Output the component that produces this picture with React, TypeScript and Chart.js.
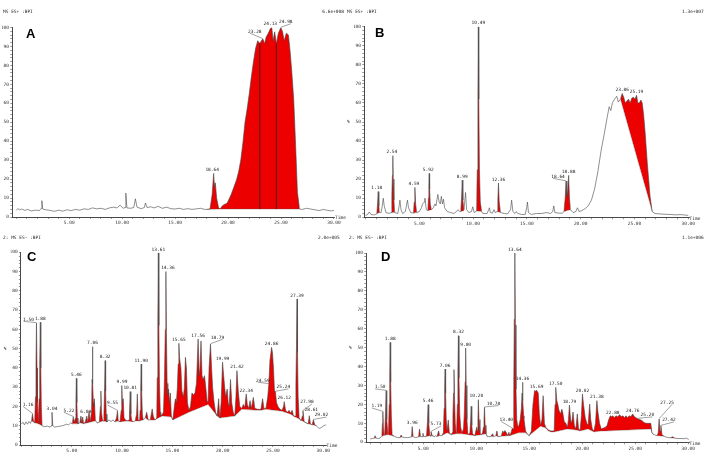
import React, { useEffect, useRef } from "react";
import { Chart, registerables } from "chart.js";
Chart.register(...registerables);

type P = [number, number];

// ---------------- Panel A (MS ES+ :BPI, 6.6e+008) ----------------
const traceA: P[] = [
  [0.0,3.5],[0.15,4.5],[0.3,3.8],[0.5,4.2],[0.8,3.5],[1.1,4.0],[1.4,3.2],[1.8,3.6],[2.2,3.4],[2.35,4.5],[2.42,8.6],[2.5,4.2],
  [2.8,3.8],[3.2,3.5],[3.6,3.0],[4.0,3.6],[4.4,3.1],[4.8,3.8],[5.2,3.4],[5.6,4.0],[6.0,3.6],[6.4,4.3],[6.8,4.0],[7.2,4.8],
  [7.6,4.3],[8.0,4.6],[8.4,4.0],[8.8,4.8],[9.2,5.2],[9.5,4.8],[9.8,6.2],[10.1,4.6],[10.28,5.0],[10.35,12.6],[10.45,4.8],
  [10.8,4.6],[11.1,5.0],[11.25,9.6],[11.4,5.2],[11.8,4.4],[12.1,5.0],[12.2,7.4],[12.35,5.0],[12.7,5.4],[13.0,4.8],[13.4,5.6],
  [13.8,4.6],[14.2,5.2],[14.6,4.4],[15.0,4.2],[15.4,4.6],[15.8,4.0],[16.2,4.4],[16.6,4.0],[17.0,4.3],[17.4,4.6],[17.8,4.0],
  [18.0,4.0],[18.3,4.3],[18.5,12],[18.64,23],[18.72,16],[18.8,18],[18.92,10],[19.1,5],[19.25,4.2],[19.4,5.5],[19.6,6.5],
  [19.9,7.2],[20.1,9.5],[20.3,12],[20.5,15],[20.8,19.6],[21.0,24],[21.2,30],[21.4,39],[21.6,50],[21.8,57],[22.0,65],[22.2,74],
  [22.4,82],[22.6,89],[22.8,93],[23.0,91.6],[23.15,93],[23.28,94],[23.45,91.5],[23.6,95],[23.8,97],[24.0,99.5],[24.13,100],
  [24.25,93],[24.4,97.7],[24.56,91.6],[24.75,97],[24.98,100],[25.15,97.7],[25.3,93],[25.5,97],[25.7,96],[25.85,88],[26.0,78],
  [26.2,62],[26.4,35],[26.55,13],[26.75,4.2],[27.0,4.0],[27.4,4.6],[27.8,4.2],[28.2,3.8],[28.6,3.4],[29.0,4.0],[29.4,3.5],
  [29.8,3.2],[30.0,3.6]
];
const baselineA: P[][] = [[[18.0,4.0],[19.25,4.2]],[[19.25,4.2],[26.75,4.2]]];
const dropsA: [number, number, number][] = [[23.0,4.2,91.6],[24.56,4.2,91.6]];
const labelsA: [number, number, string][] = [[18.64,23,"18.64"],[23.28,94,"23.28"],[24.13,100,"24.13"],[24.98,100,"24.98"]];

// ---------------- Panel B (MS ES+ :BPI, 1.3e+007) ----------------
const traceB: P[] = [
  [0.0,1.0],[0.2,1.5],[0.35,2.8],[0.5,1.5],[0.8,1.2],[1.05,1.8],[1.12,7],[1.18,13.5],[1.24,6],[1.3,2.5],[1.45,2.5],[1.56,6],
  [1.65,10],[1.74,6],[1.9,2.5],[2.2,2],[2.38,2.5],[2.45,12],[2.5,22],[2.54,32.3],[2.58,20],[2.64,9],[2.72,2.5],[3.0,2],
  [3.1,5],[3.2,9],[3.3,4],[3.45,2],[3.7,3],[3.8,6],[3.9,9],[4.0,5],[4.2,2.5],[4.45,2.2],[4.53,8],[4.59,15.7],[4.66,7],
  [4.76,2.5],[5.0,3],[5.2,5],[5.3,7],[5.45,8],[5.52,10],[5.65,4],[5.8,3.5],[5.85,10],[5.89,17],[5.92,23],[5.96,15],[6.02,7],
  [6.12,4],[6.3,5],[6.45,7],[6.55,6],[6.72,12],[6.85,8],[6.95,7],[7.05,11],[7.15,7],[7.25,9.5],[7.35,5],[7.6,3],[7.9,2.5],
  [8.2,2],[8.45,3],[8.6,4],[8.75,3],[8.85,3],[8.93,10],[8.99,19.5],[9.05,9],[9.15,4],[9.3,13],[9.4,4],[9.6,2.5],[9.85,3],
  [9.97,5.5],[10.1,2.5],[10.32,3.3],[10.39,25],[10.45,65],[10.49,100],[10.53,62],[10.59,25],[10.67,8],[10.8,3],[10.9,2],
  [11.3,2],[11.45,4],[11.52,5],[11.6,2.5],[11.8,2.2],[11.95,4],[12.05,2.5],[12.24,3],[12.3,9],[12.36,18],[12.43,8],[12.55,2.5],
  [12.9,2],[13.2,1.8],[13.48,4],[13.58,9],[13.7,3],[13.9,2],[14.02,3],[14.15,2],[14.5,1.5],[14.85,1.5],[14.98,5],[15.05,8],
  [15.15,2.5],[15.4,1.5],[15.9,2],[16.4,2],[16.8,2.5],[17.2,2],[17.4,3],[17.5,6],[17.6,2.5],[17.9,2.2],[18.3,2.2],[18.45,3],
  [18.56,10],[18.64,19],[18.72,11],[18.8,14],[18.88,22],[18.96,10],[19.05,4],[19.3,2.5],[19.55,3],[19.7,5],[19.85,3],
  [20.1,3.5],[20.4,4.5],[20.7,6],[21.0,9],[21.3,15],[21.6,24],[21.9,35],[22.2,44],[22.45,52],[22.65,58],[22.8,56],[22.95,60],
  [23.15,62],[23.35,63.5],[23.5,60.5],[23.7,62],[23.86,65],[24.0,63],[24.15,60],[24.3,61],[24.45,62],[24.6,60],[24.75,62.5],
  [24.9,63],[25.05,62],[25.19,64],[25.32,60],[25.45,60],[25.6,61.5],[25.72,60],[25.85,54],[26.0,44],[26.2,28],[26.45,11],
  [26.65,3],[26.9,2],[27.3,1.8],[27.8,1.6],[28.3,1.5],[28.8,1.3],[29.3,1.4],[29.7,1.2],[30.0,1.0]
];
const baselineB: P[][] = [
  [[1.05,1.8],[1.3,2.5]],[[2.38,2.5],[2.72,2.5]],[[4.45,2.2],[4.76,2.5]],[[5.8,3.5],[6.12,4]],[[8.85,3],[9.15,3.5]],
  [[10.32,3.3],[10.8,3]],[[12.24,3],[12.55,2.5]],[[18.45,3],[19.05,4]],[[23.7,62],[26.65,3]]
];
const dropsB: [number, number, number][] = [];
const labelsB: [number, number, string][] = [
  [1.18,13.5,"1.18"],[2.54,32.3,"2.54"],[4.59,15.7,"4.59"],[5.92,23,"5.92"],[8.99,19.5,"8.99"],[10.49,100,"10.49"],
  [12.36,18,"12.36"],[18.64,19,"18.64"],[18.88,22,"18.88"],[23.86,65,"23.86"],[25.19,64,"25.19"]
];

// ---------------- Panel C (2: MS ES- :BPI, 2.0e+005) ----------------
const traceC: P[] = [
  [0.0,10.9],[0.15,11.8],[0.3,10.5],[0.45,12],[0.6,10.8],[0.75,12.2],[0.9,11.2],[1.0,12.5],[1.1,16],[1.2,12.5],[1.32,11.5],
  [1.4,25],[1.45,42],[1.5,63.3],[1.55,40],[1.6,22],[1.68,11],[1.76,24],[1.82,42],[1.88,63.7],[1.93,40],[1.98,20],[2.05,10],
  [2.3,9.5],[2.6,9.8],[2.85,9.2],[2.97,10],[3.04,17],[3.12,10],[3.3,9.3],[3.6,9.6],[3.9,9.8],[4.2,10.2],[4.5,10.8],[4.7,10.5],
  [4.9,11.5],[5.05,11],[5.15,14.5],[5.25,12],[5.38,14],[5.42,24],[5.46,34.6],[5.51,22],[5.56,14],[5.62,11],[5.8,11.5],
  [5.92,15],[6.0,11.5],[6.09,14.5],[6.18,11],[6.35,12],[6.5,15],[6.6,11.5],[6.72,17.5],[6.85,12],[6.98,18],[7.02,34],
  [7.06,51],[7.1,32],[7.15,22],[7.2,20],[7.25,24],[7.35,12.5],[7.55,11.5],[7.75,12],[7.85,20],[7.9,28],[7.96,17],[8.05,13],
  [8.15,12.5],[8.2,15],[8.27,30],[8.32,43.8],[8.37,28],[8.43,16],[8.5,12],[8.7,13],[8.9,12.2],[9.1,13],[9.3,12],[9.45,14],
  [9.55,17.8],[9.62,12.5],[9.8,12],[9.92,18],[9.96,24],[9.99,30.8],[10.04,22],[10.12,24],[10.2,14],[10.35,13],[10.5,12.5],
  [10.7,13],[10.74,16],[10.81,27.7],[10.88,16],[10.95,13],[11.1,12],[11.3,12.5],[11.45,16],[11.52,26.5],[11.6,13],[11.75,12.5],
  [11.8,18],[11.86,30],[11.9,42],[11.95,28],[12.02,16],[12.1,13],[12.3,14],[12.45,17],[12.6,13],[12.8,13],[13.0,18.7],
  [13.1,15],[13.25,13],[13.45,14],[13.5,35],[13.56,65],[13.61,99.7],[13.66,62],[13.72,32],[13.8,17],[13.85,15],[14.0,16],
  [14.12,17],[14.22,35],[14.3,60],[14.36,90],[14.41,58],[14.48,32],[14.55,26],[14.62,29],[14.72,22],[14.8,27],[14.9,15],
  [15.05,13],[15.2,20],[15.3,24],[15.4,22],[15.5,30],[15.58,42],[15.65,52.8],[15.72,45],[15.85,40],[15.95,28],[16.1,25],
  [16.2,30],[16.3,45.5],[16.4,40],[16.5,22],[16.65,18],[16.8,20],[16.95,27],[17.1,26],[17.25,27],[17.4,32],[17.56,55],
  [17.68,36],[17.75,40],[17.85,54],[17.95,36],[18.05,34],[18.2,36],[18.32,30],[18.45,23],[18.55,22],[18.65,40],[18.79,52.4],
  [18.9,40],[19.0,30],[19.15,22],[19.3,17],[19.45,15],[19.6,24],[19.72,14],[19.85,22],[19.99,43],[20.1,36],[20.2,30],
  [20.3,25],[20.45,29],[20.55,22],[20.65,20],[20.78,34],[20.9,22],[21.05,17],[21.2,15],[21.32,25],[21.42,38.6],[21.55,28],
  [21.7,20],[21.9,19],[22.05,21],[22.2,19.5],[22.34,26.5],[22.45,21],[22.6,19],[22.72,23],[22.85,19],[23.05,24.7],[23.2,19],
  [23.5,18.5],[23.8,18.5],[23.97,24],[24.1,19],[24.3,19],[24.48,25],[24.59,31.7],[24.7,44],[24.8,48],[24.86,50.7],[24.95,48],
  [25.05,40],[25.15,28],[25.24,27.7],[25.35,22],[25.5,20],[25.7,18.5],[25.9,18],[26.05,20],[26.12,22.5],[26.25,18],[26.45,17],
  [26.6,18],[26.75,16.5],[26.9,18],[27.05,15],[27.2,15],[27.28,32],[27.34,52],[27.39,75.8],[27.44,48],[27.5,25],[27.6,14],
  [27.8,12.5],[27.92,15],[27.98,17.8],[28.1,12],[28.3,11.5],[28.5,11],[28.61,15.2],[28.72,11],[28.9,10.5],[29.02,13.1],
  [29.15,10.5],[29.3,10],[29.5,9],[29.65,8.6],[29.85,9.2],[30.05,10],[30.25,10.5]
];
const baselineC: P[][] = [
  [[1.0,12.5],[1.32,11.5],[1.68,11],[2.05,10]],
  [[2.97,10],[3.12,10]],
  [[5.05,11],[5.62,11]],
  [[5.8,11.5],[6.18,11],[6.6,11.5],[7.35,12.5],[7.55,11.5],[8.15,12.5],[8.5,12]],
  [[9.3,12],[9.62,12.5],[9.8,12],[10.5,12.5],[11.1,12]],
  [[11.3,12.5],[11.75,12.5],[12.1,13]],
  [[12.3,14],[12.6,13]],
  [[12.8,13],[13.25,13],[14.0,15],[14.9,14.5],[15.05,13],[16.65,17],[18.55,21],[19.45,15],[19.72,14],[21.2,15],[21.9,18.5],
   [23.5,18],[23.8,18],[24.3,18.5],[25.9,17.5],[26.75,16],[27.2,14.5],[27.6,13.5],[28.1,12],[28.5,11],[28.9,10.5],[29.3,10]]
];
const dropsC: [number, number, number][] = [];
const labelsC: [number, number, string][] = [
  [1.16,16,"1.16"],[1.5,63.3,"1.50"],[1.88,63.7,"1.88"],[3.04,17,"3.04"],[5.22,14.5,"5.22"],[5.46,34.6,"5.46"],
  [6.09,14.5,"6.09"],[7.06,51,"7.06"],[8.32,43.8,"8.32"],[9.55,17.8,"9.55"],[9.99,30.8,"9.99"],[10.81,27.7,"10.81"],
  [11.9,42,"11.90"],[13.61,99.7,"13.61"],[14.36,90,"14.36"],[15.65,52.8,"15.65"],[17.56,55,"17.56"],[18.79,52.4,"18.79"],
  [19.99,43,"19.99"],[21.42,38.6,"21.42"],[22.34,26.5,"22.34"],[24.59,31.7,"24.59"],[24.86,50.7,"24.86"],[25.24,27.7,"25.24"],
  [26.12,22.5,"26.12"],[27.39,75.8,"27.39"],[27.98,17.8,"27.98"],[28.61,15.2,"28.61"],[29.02,13.1,"29.02"]
];

// ---------------- Panel D (2: MS ES- :BPI, 1.1e+006) ----------------
const traceD: P[] = [
  [0.0,1.8],[0.2,2.0],[0.38,2.2],[0.45,3.5],[0.55,2.2],[0.75,2.0],[0.95,2.3],[1.1,3.5],[1.15,10],[1.19,16.2],[1.24,8],
  [1.3,4],[1.36,3.8],[1.44,15],[1.5,27.3],[1.56,12],[1.66,4.5],[1.72,4.5],[1.79,20],[1.84,36],[1.88,52.8],[1.93,32],[1.99,14],
  [2.06,4],[2.25,3.2],[2.55,2.5],[2.8,2.5],[2.92,3.8],[3.0,2.8],[3.25,2.5],[3.55,2.5],[3.88,2.8],[3.96,8.3],[4.04,3],[4.25,2.5],
  [4.55,2.8],[4.65,7],[4.75,3],[4.9,3],[4.97,4.8],[5.05,3],[5.25,3],[5.32,4],[5.4,11],[5.46,19.9],[5.52,10],[5.62,3.5],
  [5.68,3.2],[5.73,5.6],[5.85,3.5],[6.05,3],[6.15,3.5],[6.3,3],[6.45,6],[6.55,3.5],[6.75,3.5],[6.9,5],[6.97,18],[7.02,28],
  [7.06,38.7],[7.11,26],[7.17,12],[7.25,6],[7.36,11.8],[7.46,5],[7.65,4],[7.72,5],[7.8,14],[7.86,26],[7.9,38.4],[7.95,24],
  [8.02,10],[8.1,5],[8.15,6],[8.22,20],[8.27,38],[8.32,56.3],[8.37,34],[8.44,15],[8.53,8],[8.65,5],[8.8,7],[8.88,16],
  [8.95,32],[9.0,49.8],[9.05,30],[9.12,12],[9.2,5],[9.25,4],[9.4,5],[9.47,11],[9.52,19],[9.58,9],[9.65,4.5],[9.85,3.5],
  [10.05,8],[10.12,6],[10.16,13],[10.2,22.5],[10.26,12],[10.35,5],[10.45,4],[10.6,5],[10.68,8],[10.73,12],[10.78,18.5],
  [10.84,9],[10.92,4.5],[11.05,3],[11.35,3],[11.55,4.5],[11.65,3],[11.85,3.5],[11.95,6],[12.05,3],[12.35,3.2],[12.5,6],
  [12.6,5],[12.7,6.2],[12.85,5],[12.95,3.5],[13.08,5.3],[13.18,3.5],[13.3,5.5],[13.4,7.4],[13.48,7],[13.54,30],[13.59,65],
  [13.64,100],[13.69,62],[13.75,28],[13.82,12],[13.9,9],[13.98,8],[14.15,12],[14.26,18],[14.32,26],[14.36,31.7],[14.41,22],
  [14.47,14],[14.5,12.5],[14.65,6],[14.8,4.5],[15.0,3.5],[15.2,6],[15.35,20],[15.5,27.3],[15.62,27],[15.69,27.5],[15.85,26],
  [15.95,15],[16.07,9],[16.2,12],[16.31,24.6],[16.43,10],[16.55,8],[16.8,6.5],[17.05,6],[17.35,6],[17.43,20],[17.5,29],
  [17.6,22],[17.7,20],[17.8,17],[17.95,15],[18.07,17.5],[18.15,16],[18.3,11],[18.45,10],[18.6,8],[18.7,12],[18.79,19.7],
  [18.9,12],[19.0,10],[19.13,16],[19.25,9],[19.4,7],[19.53,15],[19.65,7],[19.8,6.5],[19.92,14],[20.02,25.5],[20.12,20],
  [20.28,13],[20.43,10],[20.55,9],[20.7,20.2],[20.8,12],[20.95,7],[21.1,6],[21.25,10],[21.38,22],[21.48,16],[21.63,10],
  [21.8,7],[22.0,7.5],[22.2,8],[22.35,9],[22.5,12],[22.65,14],[22.78,13.5],[22.88,14],[23.03,13],[23.18,14],[23.33,13.5],
  [23.53,14.5],[23.68,13.5],[23.83,14],[23.98,13],[24.13,14],[24.28,13],[24.43,14],[24.58,13.5],[24.76,15],[24.92,13.5],
  [25.07,13],[25.2,12.5],[25.42,12],[25.62,11.5],[25.82,10.5],[26.02,10],[26.22,10],[26.47,10],[26.57,5],[26.77,4],
  [27.05,3.5],[27.17,5],[27.25,12.3],[27.34,6],[27.42,8.8],[27.52,4],[27.72,3.2],[28.02,2.6],[28.32,2.4],[28.52,2.9],
  [28.72,2.2],[29.02,2.0],[29.32,2.0],[29.62,1.9],[29.82,2.2],[30.05,1.5]
];
const baselineD: P[][] = [
  [[0.38,2.2],[0.55,2.2]],
  [[1.1,3.0],[1.36,3.8],[1.72,4.0],[2.06,3.5],[2.25,3.2]],
  [[2.8,2.5],[3.0,2.8]],
  [[3.88,2.8],[4.04,3]],
  [[4.55,2.8],[4.75,3]],
  [[4.9,3],[5.05,3]],
  [[5.25,3],[5.62,3.5],[5.85,3.5],[6.05,3]],
  [[6.3,3],[6.55,3.5]],
  [[6.75,3.5],[7.25,5],[7.65,4],[8.1,4.5],[8.65,4.5],[9.25,4],[9.85,3.5],[10.45,4],[10.92,4.5],[11.05,3]],
  [[11.35,3],[11.65,3]],
  [[11.85,3.5],[12.05,3]],
  [[12.35,3.2],[12.95,3.5],[13.18,3.5],[13.98,5],[14.65,5],[15.0,3.5],[15.2,4.5],[16.07,8.5],[16.55,7.5],[16.8,6],[17.05,5.5],
   [17.35,5.5],[18.6,7],[19.4,6.5],[19.8,6],[20.55,7],[21.1,5.5],[21.8,6],[22.2,6],[26.47,7],[26.57,5],[26.77,4]],
  [[27.05,3.5],[27.72,3.2]],
  [[28.32,2.4],[28.72,2.2]]
];
const dropsD: [number, number, number][] = [];
const labelsD: [number, number, string][] = [
  [1.19,16.2,"1.19"],[1.5,27.3,"1.50"],[1.88,52.8,"1.88"],[3.96,8.3,"3.96"],[5.46,19.9,"5.46"],[5.73,5.6,"5.73"],
  [7.06,38.7,"7.06"],[8.32,56.3,"8.32"],[9.0,49.8,"9.00"],[10.2,22.5,"10.20"],[10.78,18.5,"10.78"],[13.4,7.4,"13.40"],
  [13.64,100,"13.64"],[14.36,31.7,"14.36"],[15.69,27.5,"15.69"],[17.5,29,"17.50"],[18.79,19.7,"18.79"],[20.02,25.5,"20.02"],
  [21.38,22,"21.38"],[22.88,14,"22.88"],[24.76,15,"24.76"],[25.2,12.5,"25.20"],[27.25,12.3,"27.25"],[27.42,8.8,"27.42"]
];

// tick labels
const xTickLabels = [5, 10, 15, 20, 25, 30];
const yTickLabels = [0, 10, 20, 30, 40, 50, 60, 70, 80, 90, 100];
const X_MINOR_STEP = 1;
const Y_MINOR_STEP = 2;

// ---------------- styles / layout ----------------
const MONO = '"DejaVu Sans Mono", monospace';
const FS = 4.5;
const RED = "rgb(236,0,0)";
const W = 708, H = 458;

type Panel = {
  trace: P[]; baseline: P[][]; drops: [number, number, number][]; labels: [number, number, string][];
  nudge: Record<string, [number, number]>;
  area: { left: number; right: number; top: number; bottom: number };
  xMin: number; xMax: number;
  texts: { s: string; x: number; y: number; align?: string }[];
  letter: { s: string; x: number; y: number };
  showPct: boolean;
};

const panels: Panel[] = [
  {
    trace: traceA, baseline: baselineA, drops: dropsA, labels: labelsA,
    nudge: { "18.64": [-1.5, 0], "23.28": [-8, -4], "24.13": [-1.5, 0], "24.98": [5, -2] },
    area: { left: 12, right: 334.5, top: 27.5, bottom: 217 }, xMin: -0.4, xMax: 30.05,
    texts: [{ s: "MS ES+ :BPI", x: 3, y: 12 }, { s: "6.6e+008", x: 344, y: 12, align: "right" }],
    letter: { s: "A", x: 26, y: 37.7 }, showPct: false,
  },
  {
    trace: traceB, baseline: baselineB, drops: dropsB, labels: labelsB,
    nudge: { "1.18": [-1.5, 0], "2.54": [-1, 0], "4.59": [-1, 0], "5.92": [-1, 0], "18.64": [-8, -1] },
    area: { left: 364, right: 689, top: 26.7, bottom: 217.3 }, xMin: -0.14, xMax: 30.07,
    texts: [{ s: "MS ES+ :BPI", x: 347, y: 12 }, { s: "1.3e+007", x: 682, y: 12 }],
    letter: { s: "B", x: 375, y: 36.7 }, showPct: true,
  },
  {
    trace: traceC, baseline: baselineC, drops: dropsC, labels: labelsC,
    nudge: {
      "1.16": [-5, -6], "1.50": [-8, 0], "5.22": [-5, -3], "6.09": [3, -2], "9.55": [-5, -4], "14.36": [2, 0],
      "18.79": [7, -3], "24.59": [-6, 0], "25.24": [8, -1], "27.98": [4, -5], "28.61": [2, -2], "29.02": [8, -1],
    },
    area: { left: 20.7, right: 326, top: 252.3, bottom: 445 }, xMin: -0.07, xMax: 30.27,
    texts: [{ s: "2: MS ES- :BPI", x: 3, y: 238 }, { s: "2.0e+005", x: 318, y: 238 }],
    letter: { s: "C", x: 27, y: 260.7 }, showPct: true,
  },
  {
    trace: traceD, baseline: baselineD, drops: dropsD, labels: labelsD,
    nudge: {
      "1.19": [-6, -2], "1.50": [-6, 0], "5.73": [5, -4], "10.20": [-2, 0], "10.78": [9, 0], "13.40": [-6, -5],
      "25.20": [10, 0], "27.25": [8, -13], "27.42": [8, -2],
    },
    area: { left: 366, right: 689, top: 253, bottom: 442.3 }, xMin: -0.4, xMax: 30.07,
    texts: [{ s: "2: MS ES- :BPI", x: 349, y: 238 }, { s: "1.1e+006", x: 682, y: 238 }],
    letter: { s: "D", x: 381, y: 260.7 }, showPct: true,
  },
];

function buildConfig(p: Panel): any {
  const Y_W = 10, X_H = 12;
  const datasets: any[] = [
    { label: "trace", data: p.trace.map(([x, y]) => ({ x, y })), borderColor: "#444", borderWidth: 0.6, pointRadius: 0, fill: false, tension: 0 },
  ];
  const dropData: any[] = [];
  p.drops.forEach(([x, y0, y1]) => {
    dropData.push({ x, y: y0 }, { x, y: y1 }, { x, y: null });
  });
  datasets.push({ label: "drops", data: dropData, borderColor: "#222", borderWidth: 0.8, pointRadius: 0, fill: false, tension: 0 });
  p.baseline.forEach((seg, k) => {
    const t0 = seg[0][0] - 1e-9, t1 = seg[seg.length - 1][0] + 1e-9;
    const baseIndex = datasets.length;
    datasets.push({
      label: "baseline" + k, data: seg.map(([x, y]) => ({ x, y })),
      borderColor: "rgba(90,90,90,0.7)", borderWidth: 0.5, pointRadius: 0, fill: false, tension: 0,
    });
    datasets.push({
      label: "peak" + k,
      data: p.trace.filter(([x]) => x >= t0 && x <= t1).map(([x, y]) => ({ x, y })),
      borderColor: RED, borderWidth: 0, pointRadius: 0, tension: 0,
      backgroundColor: RED,
      fill: { target: baseIndex, above: RED, below: "rgba(0,0,0,0)" },
    });
  });

  const xTicks: number[] = [];
  for (let v = 0; v <= 30 + 1e-9; v += X_MINOR_STEP) if (v >= p.xMin && v <= p.xMax) xTicks.push(v);
  const yTicks: number[] = [];
  for (let v = 0; v <= 100 + 1e-9; v += Y_MINOR_STEP) yTicks.push(v);

  const textPlugin = {
    id: "panelText",
    afterDraw(chart: any) {
      const ctx = chart.ctx;
      const xs = chart.scales.x, ys = chart.scales.y;
      const ca = chart.chartArea;
      ctx.save();
      ctx.font = `${FS}px ${MONO}`;
      ctx.fillStyle = "#222";
      ctx.strokeStyle = "#444";
      ctx.lineWidth = 0.5;
      ctx.textAlign = "center";
      ctx.textBaseline = "bottom";
      for (const [t, v, s] of p.labels) {
        const px = xs.getPixelForValue(t), py = ys.getPixelForValue(v);
        const [dx, dy] = p.nudge[s] || [0, 0];
        const lx = px + dx, ly = py - 1.2 + dy;
        ctx.fillText(s, lx, ly);
        if (Math.abs(dx) > 3 || dy < -3) {
          ctx.beginPath();
          ctx.moveTo(lx + Math.sign(dx) * 5, ly - 0.5);
          ctx.lineTo(px, py - 0.3);
          ctx.stroke();
        }
      }
      ctx.textBaseline = "middle";
      for (const tx of p.texts) {
        ctx.textAlign = tx.align === "right" ? "right" : "left";
        ctx.fillText(tx.s, tx.x, tx.y);
      }
      ctx.textAlign = "left";
      ctx.fillText("Time", ca.right + 0.5, ca.bottom + 1.2);
      if (p.showPct) ctx.fillText("%", ca.left - 17, (ca.top + ca.bottom) / 2);
      ctx.font = `bold 13px "Liberation Sans", Arial, sans-serif`;
      ctx.fillStyle = "#000";
      ctx.textBaseline = "alphabetic";
      ctx.fillText(p.letter.s, p.letter.x, p.letter.y);
      ctx.restore();
    },
  };

  const tickFont = { family: MONO, size: FS };
  return {
    type: "line",
    data: { datasets },
    options: {
      animation: false,
      responsive: false,
      maintainAspectRatio: false,
      devicePixelRatio: 1,
      events: [],
      layout: {
        padding: {
          left: p.area.left - Y_W,
          right: W - p.area.right,
          top: p.area.top,
          bottom: H - p.area.bottom - X_H,
        },
      },
      plugins: { legend: { display: false }, tooltip: { enabled: false }, title: { display: false } },
      scales: {
        x: {
          type: "linear",
          min: p.xMin,
          max: p.xMax,
          afterFit: (s: any) => { s.height = X_H; },
          afterBuildTicks: (s: any) => { s.ticks = xTicks.map((v) => ({ value: v })); },
          border: { display: true, color: "#333", width: 0.9, z: 1 },
          grid: { display: true, drawOnChartArea: false, drawTicks: true, tickLength: 2, color: "#555", lineWidth: 0.6 },
          ticks: {
            autoSkip: false, maxRotation: 0, padding: 1.5, color: "#333", font: tickFont,
            callback: (v: any) => (xTickLabels.indexOf(Math.round(Number(v) * 100) / 100) >= 0 ? Number(v).toFixed(2) : ""),
          },
        },
        y: {
          type: "linear",
          min: 0,
          max: 100,
          afterFit: (s: any) => { s.width = Y_W; },
          afterBuildTicks: (s: any) => { s.ticks = yTicks.map((v) => ({ value: v })); },
          border: { display: true, color: "#333", width: 0.9, z: 1 },
          grid: { display: true, drawOnChartArea: false, drawTicks: true, tickLength: 1.8, color: "#555", lineWidth: 0.6 },
          ticks: {
            autoSkip: false, padding: 1.2, color: "#333", font: tickFont,
            callback: (v: any) => (yTickLabels.indexOf(Number(v)) >= 0 ? String(v) : ""),
          },
        },
      },
    },
    plugins: [textPlugin],
  };
}

function PanelCanvas({ panel }: { panel: Panel }) {
  const ref = useRef<HTMLCanvasElement | null>(null);
  useEffect(() => {
    if (!ref.current) return;
    const chart = new Chart(ref.current, buildConfig(panel));
    return () => chart.destroy();
  }, [panel]);
  return (
    <canvas
      ref={ref}
      width={W}
      height={H}
      style={{ position: "absolute", left: 0, top: 0, width: W, height: H }}
    />
  );
}

export default function App() {
  return (
    <div style={{ position: "fixed", left: 0, top: 0, width: W, height: H, background: "#fff", overflow: "hidden" }}>
      {panels.map((p, i) => (
        <PanelCanvas key={i} panel={p} />
      ))}
    </div>
  );
}
